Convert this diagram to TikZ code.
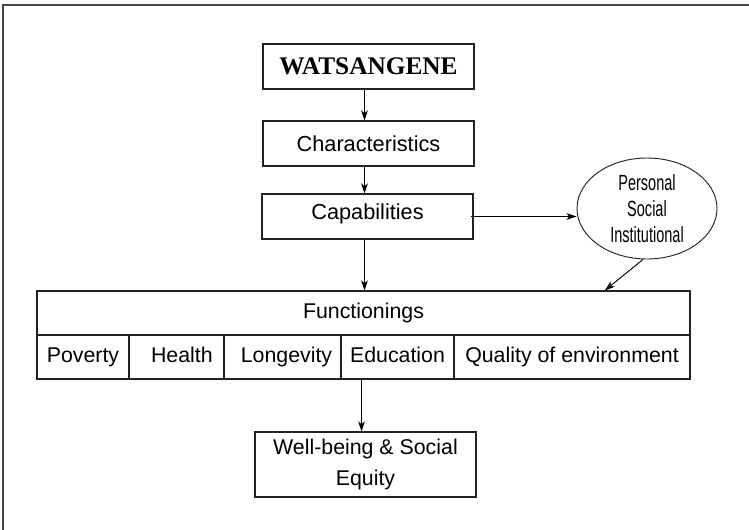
\documentclass[tikz,border=0pt]{standalone}
\usepackage{fontspec}
\setmainfont{Liberation Sans}
\newfontfamily\titlefont{Liberation Serif}
\newfontfamily\narrowfont[FakeStretch=0.66]{Liberation Sans}
\usepackage{tikz}
\usepackage{xcolor}
\usetikzlibrary{arrows.meta,positioning,calc,shapes.geometric}
\definecolor{lineblack}{HTML}{222222}
\definecolor{framegray}{HTML}{444444}

\begin{document}
\begin{tikzpicture}[x=0.75pt,y=-0.75pt,
  box/.style={draw=lineblack,line width=0.8pt,inner sep=0pt,minimum width=158.25pt,minimum height=33.75pt,align=center,font=\fontsize{16.3}{19}\selectfont},
  cell/.style={draw=lineblack,line width=0.8pt,inner sep=0pt,minimum height=33pt,text height=11.7pt,text depth=3.4pt,font=\fontsize{16}{19}\selectfont},
  arr/.style={-{Stealth[length=7.5pt,width=5pt,inset=2pt]},line width=0.7pt,black}
]
\useasboundingbox (0,0) rectangle (749,529);
% Frame
\draw[framegray,line width=1.4pt] (3,5) rectangle (770,550);

% Top chain
\node[box,font=\titlefont\bfseries\fontsize{19}{20}\selectfont] (wat) at (368.5,66.5) {WATSANGENE};
\node[box] (char) at (368.5,143.5) {Characteristics};
\node[box,text height=11.7pt,text depth=7.5pt] (cap) at (367.5,216.5) {Capabilities};

% Conversion factors
\node[draw=lineblack,line width=0.7pt,ellipse,inner sep=0pt,minimum width=105pt,minimum height=75.75pt,align=center,
  font=\narrowfont\fontsize{16.5}{19.5}\selectfont] (conv) at (647,208.5) {Personal\\Social\\Institutional};

% Functionings
\node[cell,minimum width=489.75pt] (fun) at (363.5,313) {Functionings};
\node[cell,minimum width=69pt] (pov) at (83,357) {Poverty};
\node[cell,minimum width=71.25pt] (hea) at (176.5,357) {\hspace{8pt}Health};
\node[cell,minimum width=87.75pt] (lon) at (282.5,357) {\hspace{6pt}Longevity};
\node[cell,minimum width=84.75pt] (edu) at (397.5,357) {Education};
\node[cell,minimum width=177pt] (qua) at (572,357) {Quality of environment};

% Output
\node[box,minimum width=165.75pt,minimum height=48.75pt,font=\fontsize{16}{23.25}\selectfont] (well) at (365.5,464.5) {Well-being \& Social\\Equity};

\draw[arr] ([xshift=-3pt]wat.south) -- ([xshift=-3pt]wat.south |- char.north);
\draw[arr] ([xshift=-3pt]wat.south |- char.south) -- ([xshift=-3pt]wat.south |- cap.north);
\draw[arr] ([xshift=-3pt]wat.south |- cap.south) -- ([xshift=-3pt]wat.south |- fun.north);
\draw[arr] ([xshift=-2pt]cap.east) -- (cap.east -| conv.west);
\draw[arr] ([xshift=-3pt]conv.south) -- ([xshift=181pt]fun.north);
\draw[arr] ([xshift=-3pt]edu.south -| well.north) -- ([xshift=-3pt]well.north);
\end{tikzpicture}
\end{document}
